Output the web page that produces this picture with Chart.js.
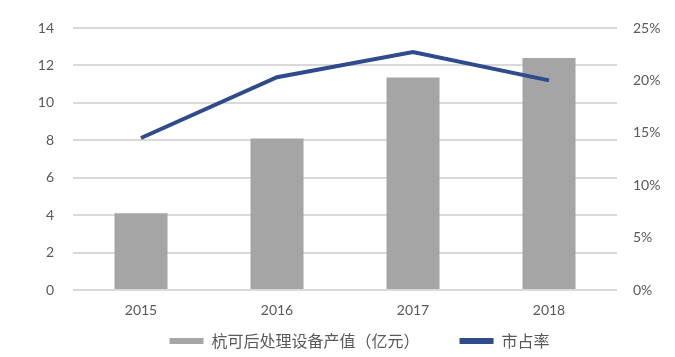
<!DOCTYPE html>
<html>
<head>
<meta charset="utf-8">
<script src="https://cdn.jsdelivr.net/npm/chart.js@4/dist/chart.umd.min.js"></script>
<style>
html,body{margin:0;padding:0;background:#fff;}
#wrap{width:675px;height:357px;}
</style>
</head>
<body>
<div id="wrap"><canvas id="c" width="675" height="357"></canvas></div>
<script>
const categories = ['2015', '2016', '2017', '2018'];
const outputValues = [4.1, 8.1, 11.35, 12.4];
const shareValues = [14.5, 20.3, 22.7, 20.0];
const seriesNames = ['杭可后处理设备产值（亿元）', '市占率'];

const tickFont = {family: 'Lato, "Noto Sans", sans-serif', size: 14};
const tickColor = '#595959';

const legendFitPlugin = {
  id: 'legendFit',
  beforeInit(chart) {
    const orig = chart.legend.fit;
    chart.legend.fit = function () {
      orig.bind(chart.legend)();
      this.height = 37;
    };
  },
  afterLayout(chart) {
    chart.legend.left += 8;
    chart.legend.right += 8;
    chart.legend.top -= 27;
    chart.legend.height += 27;
  }
};

new Chart(document.getElementById('c'), {
  type: 'bar',
  data: {
    labels: categories,
    datasets: [
      {
        type: 'line',
        label: seriesNames[1],
        data: shareValues,
        yAxisID: 'y2',
        borderColor: '#2F4B8C',
        backgroundColor: '#2F4B8C',
        borderWidth: 4,
        pointRadius: 0,
        tension: 0,
        order: 0
      },
      {
        type: 'bar',
        label: seriesNames[0],
        data: outputValues,
        yAxisID: 'y',
        backgroundColor: '#A5A5A5',
        barPercentage: 0.39,
        categoryPercentage: 1,
        order: 1
      }
    ]
  },
  options: {
    responsive: false,
    animation: false,
    layout: {padding: {top: 28, left: 28, right: 0, bottom: 0}},
    plugins: {
      tooltip: {enabled: false},
      legend: {
        position: 'bottom',
        reverse: true,
        labels: {
          boxWidth: 34,
          boxHeight: 6,
          padding: 40,
          color: '#595959',
          font: {family: '"Noto Sans CJK SC", sans-serif', size: 16},
          generateLabels(chart) {
            const ds = chart.data.datasets;
            return ds.map((d, i) => ({
              text: d.label,
              fillStyle: d.type === 'line' ? d.borderColor : d.backgroundColor,
              strokeStyle: d.type === 'line' ? d.borderColor : d.backgroundColor,
              lineWidth: 0,
              hidden: false,
              datasetIndex: i,
              fontColor: '#595959'
            }));
          }
        }
      }
    },
    scales: {
      x: {
        grid: {display: false, drawTicks: false},
        border: {display: false},
        ticks: {color: tickColor, font: tickFont, padding: 12, autoSkip: false, maxRotation: 0},
        afterFit(s) { s.height = 30; }
      },
      y: {
        position: 'left',
        min: 0, max: 14,
        ticks: {stepSize: 2, color: tickColor, font: tickFont, padding: 19},
        grid: {color: '#D9D9D9', lineWidth: 2, drawTicks: false},
        border: {display: false},
        afterFit(s) { s.width = 45; }
      },
      y2: {
        position: 'right',
        min: 0, max: 25,
        ticks: {stepSize: 5, color: tickColor, font: tickFont, padding: 16, callback: v => v + '%'},
        grid: {display: false, drawTicks: false},
        border: {display: false},
        afterFit(s) { s.width = 58; }
      }
    }
  },
  plugins: [legendFitPlugin]
});
</script>
</body>
</html>
